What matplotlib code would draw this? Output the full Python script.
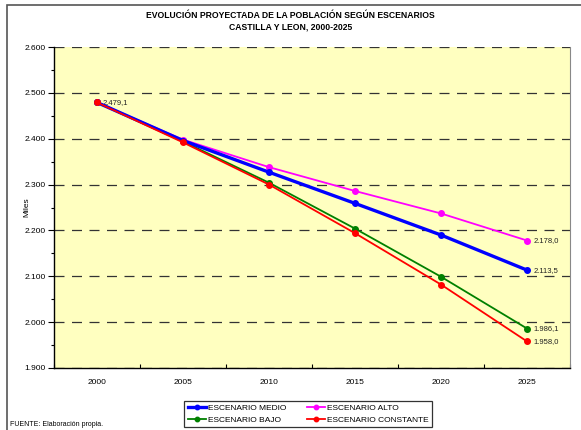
import matplotlib
matplotlib.use("Agg")
import matplotlib.pyplot as plt
from matplotlib.patches import Rectangle
from matplotlib.ticker import FuncFormatter, MultipleLocator

plt.rcParams['font.family'] = ['Liberation Sans', 'DejaVu Sans']

years = ["2000", "2005", "2010", "2015", "2020", "2025"]
medio = [2479.1, 2396, 2327, 2259, 2190, 2113.5]
alto = [2479.1, 2398, 2338, 2286, 2237, 2178.0]
bajo = [2479.1, 2394, 2304, 2204, 2099, 1986.1]
constante = [2479.1, 2392, 2300, 2194, 2082, 1958.0]

W, H = 581, 430
fig = plt.figure(figsize=(W/100, H/100), dpi=100)
fig.patch.set_facecolor('white')

# outer frame
fig.patches.append(Rectangle((7/W, -0.05), 1.1, (H-5)/H + 0.05, transform=fig.transFigure,
                             fill=False, edgecolor='#555555', linewidth=1.2, zorder=0))

ax = fig.add_axes([54/W, (H-368)/H, (570-54)/W, (368-47)/H])
ax.set_facecolor('#FFFFC0')

x = list(range(len(years)))
ax.plot(x, medio, color='#0000FF', lw=2.4, marker='o', ms=4, label='ESCENARIO MEDIO', zorder=4)
ax.plot(x, bajo, color='#008000', lw=1.3, marker='o', ms=4, label='ESCENARIO BAJO', zorder=3)
ax.plot(x, alto, color='#FF00FF', lw=1.3, marker='o', ms=4, label='ESCENARIO ALTO', zorder=3)
ax.plot(x, constante, color='#FF0000', lw=1.3, marker='o', ms=4, label='ESCENARIO CONSTANTE', zorder=5)

fmt = lambda v: f"{v:,.1f}".replace(",", "X").replace(".", ",").replace("X", ".")
ax.annotate(fmt(constante[0]), (x[0], constante[0]), xytext=(4, 0), textcoords='offset points',
            fontsize=5.5, va='center', ha='left', color='#222222')
for s in (alto, medio, bajo, constante):
    ax.annotate(fmt(s[-1]), (x[-1], s[-1]), xytext=(5, 0), textcoords='offset points',
                fontsize=5.5, va='center', ha='left', color='#222222')

ax.set_xlim(-0.5, 5.5)
ax.set_ylim(1900, 2600)
ax.yaxis.set_major_locator(MultipleLocator(100))
ax.yaxis.set_minor_locator(MultipleLocator(50))
ax.yaxis.set_major_formatter(FuncFormatter(lambda v, p: f"{int(v):,}".replace(",", ".")))
ax.set_xticks([i - 0.5 for i in range(7)])
ax.set_xticklabels([])
ax.set_xticks(x, minor=True)
ax.set_xticklabels(years, minor=True)
ax.tick_params(axis='x', which='minor', length=0, pad=8, labelsize=6)
ax.tick_params(axis='x', which='major', length=3, direction='in', width=0.8)
ax.tick_params(axis='y', which='major', length=4, direction='out', width=0.8, labelsize=6, pad=2)
ax.tick_params(axis='y', which='minor', length=2, direction='out', width=0.8)

ax.grid(axis='y', which='major', color='#333333', linestyle=(0, (8, 6)), linewidth=0.9)
ax.set_axisbelow(True)
ax.spines['top'].set_visible(False)
ax.spines['right'].set_color('#888888')
ax.spines['left'].set_color('black')
ax.spines['bottom'].set_color('black')
ax.spines['left'].set_linewidth(1.0)
ax.spines['bottom'].set_linewidth(1.0)

ax.set_ylabel('Miles', fontsize=6)
ax.yaxis.set_label_coords((30 - 54) / (570 - 54), 0.5)

fig.text(0.5, (H-16)/H, 'EVOLUCIÓN PROYECTADA DE LA POBLACIÓN SEGÚN ESCENARIOS',
         ha='center', va='center', fontsize=6.2, fontweight='bold')
fig.text(0.5, (H-27)/H, 'CASTILLA Y LEON, 2000-2025',
         ha='center', va='center', fontsize=6.2, fontweight='bold')

handles, labels = ax.get_legend_handles_labels()
leg = fig.legend(handles, labels, ncol=2, loc='center', bbox_to_anchor=(308/W, (H-414)/H),
                 fontsize=6, frameon=True, fancybox=False, edgecolor='black',
                 handlelength=2.2, handletextpad=0.2, columnspacing=2.5, borderpad=0.4,
                 labelspacing=0.5, markerscale=0.8)
leg.get_frame().set_linewidth(0.9)

fig.text(10/W, (H-424)/H, 'FUENTE: Elaboración propia.', fontsize=5, va='center', ha='left')

fig.savefig('out.png', dpi=100)
